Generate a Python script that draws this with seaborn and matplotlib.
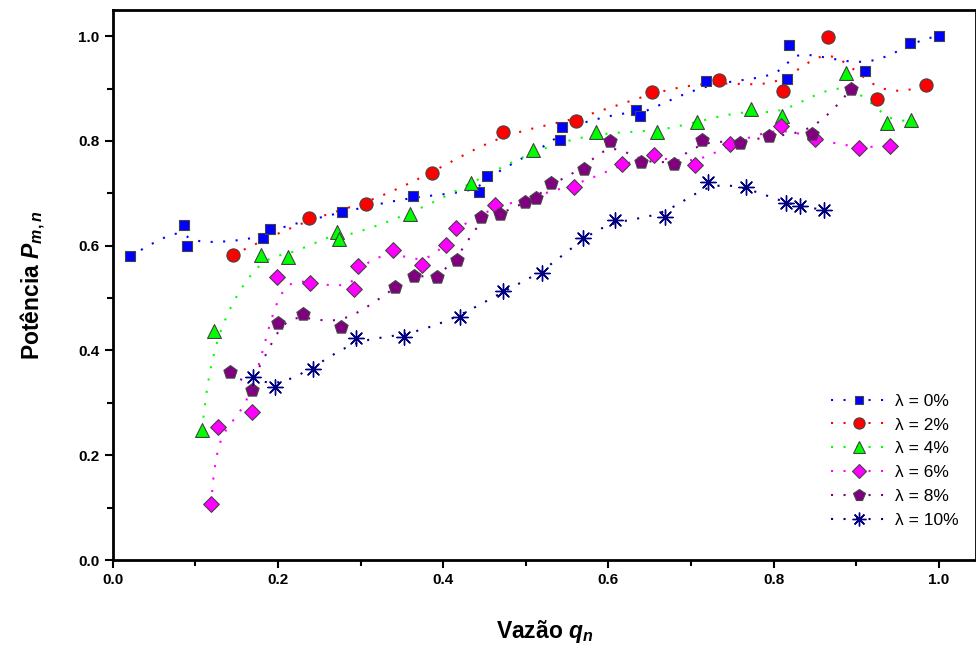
import numpy as np
import pandas as pd
import matplotlib
matplotlib.use("Agg")
import matplotlib.pyplot as plt
from matplotlib.lines import Line2D
from matplotlib.ticker import MultipleLocator
import seaborn as sns

# -----------------------------
# DATA
# -----------------------------

x_0 = [0.021, 0.086, 0.090, 0.182, 0.190, 0.278, 0.364, 0.443, 0.453, 0.541, 0.544,
       0.633, 0.638, 0.718, 0.816, 0.819, 0.911, 0.965, 1.000]
y_0 = [0.580, 0.639, 0.600, 0.614, 0.631, 0.664, 0.695, 0.702, 0.734, 0.802, 0.827,
       0.860, 0.847, 0.915, 0.919, 0.983, 0.934, 0.987, 1.001]

x_2 = [0.145, 0.237, 0.307, 0.387, 0.473, 0.561, 0.653, 0.734, 0.811, 0.866, 0.925, 0.985]
y_2 = [0.582, 0.652, 0.680, 0.739, 0.817, 0.838, 0.894, 0.917, 0.896, 0.999, 0.881, 0.906]

x_4 = [0.108, 0.122, 0.179, 0.212, 0.272, 0.274, 0.360, 0.434, 0.509, 0.585, 0.659,
       0.707, 0.773, 0.810, 0.888, 0.937, 0.966]
y_4 = [0.248, 0.437, 0.582, 0.579, 0.627, 0.612, 0.660, 0.719, 0.782, 0.817, 0.817,
       0.837, 0.861, 0.847, 0.929, 0.835, 0.840]

x_6 = [0.119, 0.127, 0.168, 0.199, 0.239, 0.292, 0.297, 0.339, 0.374, 0.403, 0.415,
       0.463, 0.558, 0.617, 0.655, 0.705, 0.747, 0.809, 0.850, 0.903, 0.941]
y_6 = [0.106, 0.254, 0.283, 0.541, 0.529, 0.518, 0.562, 0.592, 0.564, 0.601, 0.633,
       0.677, 0.712, 0.756, 0.773, 0.754, 0.795, 0.828, 0.803, 0.786, 0.791]

x_8 = [0.142, 0.169, 0.200, 0.230, 0.276, 0.342, 0.365, 0.392, 0.417, 0.446, 0.469,
       0.499, 0.512, 0.531, 0.571, 0.602, 0.640, 0.680, 0.713, 0.759, 0.794, 0.847, 0.894]
y_8 = [0.359, 0.324, 0.453, 0.469, 0.444, 0.522, 0.543, 0.541, 0.573, 0.655, 0.660,
       0.683, 0.691, 0.719, 0.747, 0.800, 0.759, 0.756, 0.802, 0.796, 0.810, 0.814, 0.899]

x_10 = [0.170, 0.196, 0.242, 0.294, 0.352, 0.420, 0.472, 0.520, 0.569, 0.608, 0.668,
        0.720, 0.766, 0.815, 0.832, 0.861]
y_10 = [0.349, 0.330, 0.365, 0.423, 0.426, 0.464, 0.513, 0.548, 0.615, 0.649, 0.655,
        0.722, 0.712, 0.681, 0.676, 0.668]

labels = ["λ = 0%", "λ = 2%", "λ = 4%", "λ = 6%", "λ = 8%", "λ = 10%"]
series_x = [x_0, x_2, x_4, x_6, x_8, x_10]
series_y = [y_0, y_2, y_4, y_6, y_8, y_10]

colors = ["#0000FF", "#FF0000", "#00FF00", "#FF00FF", "#800080", "#000080"]
markers = ["s", "o", "^", "D", "p", (8, 2, 0)]
msizes = [7.5, 9.5, 10, 8, 10, 11]


def bspline(x, y, n=25):
    # clamped uniform cubic B-spline through control points (like Origin's B-spline connect)
    P = np.column_stack([x, y])
    P = np.vstack([P[0], P[0], P, P[-1], P[-1]])
    t = np.linspace(0, 1, n)
    b0 = (1 - t) ** 3 / 6
    b1 = (3 * t**3 - 6 * t**2 + 4) / 6
    b2 = (-3 * t**3 + 3 * t**2 + 3 * t + 1) / 6
    b3 = t**3 / 6
    pts = []
    for i in range(len(P) - 3):
        seg = (np.outer(b0, P[i]) + np.outer(b1, P[i + 1])
               + np.outer(b2, P[i + 2]) + np.outer(b3, P[i + 3]))
        pts.append(seg)
    pts = np.vstack(pts)
    return pts[:, 0], pts[:, 1]


# -----------------------------
# STYLE
# -----------------------------

sns.set_style("ticks")
plt.rcParams['font.family'] = ['Liberation Sans', 'DejaVu Sans']
plt.rcParams['mathtext.fontset'] = 'custom'
plt.rcParams['mathtext.it'] = 'Liberation Sans:bold:italic'
plt.rcParams['mathtext.rm'] = 'Liberation Sans:bold'
plt.rcParams['text.color'] = 'black'
plt.rcParams['axes.labelcolor'] = 'black'
plt.rcParams['xtick.color'] = 'black'
plt.rcParams['ytick.color'] = 'black'
plt.rcParams['axes.edgecolor'] = 'black'

fig = plt.figure(figsize=(9.76, 6.52), dpi=100)
ax = fig.add_axes([0.1155, 0.1411, 0.8845, 0.8436])

dotted = (0, (1, 5))

for xs, ys, lab, c, m, ms in zip(series_x, series_y, labels, colors, markers, msizes):
    order = np.argsort(xs, kind="stable")
    xs_s = np.array(xs)[order]
    ys_s = np.array(ys)[order]
    sx, sy = bspline(xs_s, ys_s)
    ax.plot(sx, sy, color=c, lw=1.5, linestyle=dotted, zorder=2)
    df = pd.DataFrame({"x": xs, "y": ys})
    if isinstance(m, tuple):
        sns.scatterplot(data=df, x="x", y="y", ax=ax, marker=m, s=ms**2,
                        color=c, edgecolor=c, linewidth=1.0, zorder=3, legend=False)
    else:
        sns.scatterplot(data=df, x="x", y="y", ax=ax, marker=m, s=ms**2,
                        color=c, edgecolor="#444444", linewidth=0.8, zorder=3, legend=False)

ax.set_xlim(0, 1.045)
ax.set_ylim(0, 1.05)
ax.xaxis.set_major_locator(MultipleLocator(0.2))
ax.xaxis.set_minor_locator(MultipleLocator(0.1))
ax.yaxis.set_major_locator(MultipleLocator(0.2))
ax.yaxis.set_minor_locator(MultipleLocator(0.1))
ax.tick_params(which="major", length=6, width=1.5, labelsize=11, direction="out", colors="black")
ax.tick_params(which="minor", length=4, width=1.5, direction="out", colors="black")
for lbl in ax.get_xticklabels() + ax.get_yticklabels():
    lbl.set_fontweight("bold")
for sp in ax.spines.values():
    sp.set_linewidth(2)
    sp.set_color("black")
    sp.set_visible(True)

ax.set_xlabel("Vazão $q_n$", fontsize=16.5, fontweight="bold", labelpad=22)
ax.set_ylabel("Potência $P_{m,n}$", fontsize=16.5, fontweight="bold", labelpad=22)

handles = []
for c, m, ms in zip(colors, markers, msizes):
    if isinstance(m, tuple):
        h = Line2D([], [], color=c, lw=1.5, linestyle=dotted, marker=m,
                   markersize=ms * 0.9, markerfacecolor=c, markeredgecolor=c, markeredgewidth=1.0)
    else:
        h = Line2D([], [], color=c, lw=1.5, linestyle=dotted, marker=m,
                   markersize=ms * 0.85, markerfacecolor=c, markeredgecolor="#444444", markeredgewidth=0.8)
    handles.append(h)

ax.legend(handles, labels, loc="lower right", bbox_to_anchor=(0.998, 0.03),
          frameon=False, fontsize=12.5, handlelength=3.2, labelspacing=0.5,
          handletextpad=0.5)

plt.savefig("out.png", dpi=100)
